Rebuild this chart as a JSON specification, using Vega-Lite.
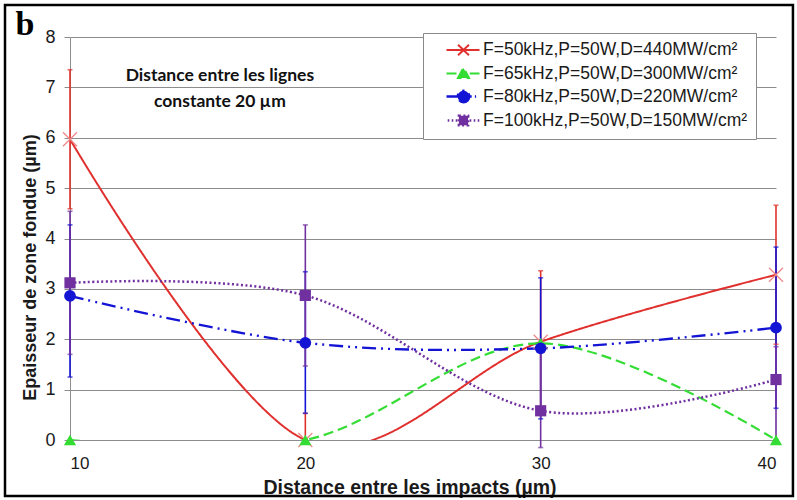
{
  "$schema": "https://vega.github.io/schema/vega-lite/v6.json",
  "width": 706,
  "height": 403,
  "autosize": {"type": "none"},
  "padding": {"left": 70, "top": 37, "right": 21, "bottom": 60},
  "background": "white",
  "config": {
    "view": {"stroke": null},
    "axis": {"labelColor": "#1a1a1a", "titleColor": "#1a1a1a"}
  },
  "datasets": {
    "main": [
      {"series": "F=50kHz,P=50W,D=440MW/cm²", "x": 10, "y": 5.97, "lo": 4.59, "hi": 7.35},
      {"series": "F=50kHz,P=50W,D=440MW/cm²", "x": 20, "y": 0, "lo": 0, "hi": 0.53},
      {"series": "F=50kHz,P=50W,D=440MW/cm²", "x": 30, "y": 1.95, "lo": 0.54, "hi": 3.36},
      {"series": "F=50kHz,P=50W,D=440MW/cm²", "x": 40, "y": 3.28, "lo": 1.9, "hi": 4.66},
      {"series": "F=65kHz,P=50W,D=300MW/cm²", "x": 10, "y": 0, "lo": null, "hi": null},
      {"series": "F=65kHz,P=50W,D=300MW/cm²", "x": 20, "y": 0, "lo": null, "hi": null},
      {"series": "F=65kHz,P=50W,D=300MW/cm²", "x": 30, "y": 1.92, "lo": null, "hi": null},
      {"series": "F=65kHz,P=50W,D=300MW/cm²", "x": 40, "y": 0, "lo": null, "hi": null},
      {"series": "F=80kHz,P=50W,D=220MW/cm²", "x": 10, "y": 2.86, "lo": 1.25, "hi": 4.27},
      {"series": "F=80kHz,P=50W,D=220MW/cm²", "x": 20, "y": 1.93, "lo": 0.53, "hi": 3.34},
      {"series": "F=80kHz,P=50W,D=220MW/cm²", "x": 30, "y": 1.82, "lo": 0.42, "hi": 3.22},
      {"series": "F=80kHz,P=50W,D=220MW/cm²", "x": 40, "y": 2.23, "lo": 0.63, "hi": 3.83},
      {"series": "F=100kHz,P=50W,D=150MW/cm²", "x": 10, "y": 3.12, "lo": 1.7, "hi": 4.54},
      {"series": "F=100kHz,P=50W,D=150MW/cm²", "x": 20, "y": 2.87, "lo": 1.47, "hi": 4.27},
      {"series": "F=100kHz,P=50W,D=150MW/cm²", "x": 30, "y": 0.58, "lo": -0.15, "hi": 1.8},
      {"series": "F=100kHz,P=50W,D=150MW/cm²", "x": 40, "y": 1.2, "lo": 0, "hi": 1.85}
    ]
  },
  "layer": [
    {
      "data": {"values": [{}]},
      "mark": {"type": "rect", "fill": "transparent", "stroke": "black", "strokeWidth": 2.5, "clip": false},
      "encoding": {
        "x": {"datum": 7.238, "type": "quantitative", "scale": {"domain": [10, 40], "nice": false, "zero": false}},
        "x2": {"datum": 40.72},
        "y": {"datum": 8.635, "type": "quantitative", "scale": {"domain": [0, 8], "nice": false, "zero": false}},
        "y2": {"datum": -1.112}
      }
    },
    {
      "data": {"values": [{}]},
      "mark": {"type": "text", "text": "b", "font": "Liberation Serif", "fontWeight": "bold", "fontSize": 34, "align": "center", "baseline": "alphabetic", "color": "black", "clip": false},
      "encoding": {
        "x": {"datum": 8.088, "type": "quantitative", "scale": {"domain": [10, 40], "nice": false, "zero": false}},
        "y": {"datum": 8.04, "type": "quantitative", "scale": {"domain": [0, 8], "nice": false, "zero": false}}
      }
    },
    {
      "data": {"values": [{}]},
      "mark": {"type": "text", "text": ["Distance entre les lignes", "constante 20 µm"], "font": "Lato", "fontWeight": "bold", "fontSize": 17.5, "lineHeight": 26, "align": "center", "baseline": "middle", "color": "#111111"},
      "encoding": {
        "x": {"datum": 16.37, "type": "quantitative", "scale": {"domain": [10, 40], "nice": false, "zero": false}},
        "y": {"datum": 7.23, "type": "quantitative", "scale": {"domain": [0, 8], "nice": false, "zero": false}}
      }
    },
    {
      "data": {"name": "main"},
      "mark": {"type": "rule", "strokeWidth": 1.6, "clip": false},
      "encoding": {
        "x": {"field": "x", "type": "quantitative", "scale": {"domain": [10, 40], "nice": false, "zero": false},
          "axis": {"values": [10, 20, 30, 40], "title": "Distance entre les impacts (µm)", "grid": false, "ticks": false, "domainColor": "#8c8c8c", "labelFont": "Liberation Sans", "labelFontSize": 17, "labelPadding": 15, "titleFont": "Liberation Sans", "titleFontSize": 19.5, "titleFontWeight": "bold", "titleX": 339.5, "titleY": 53, "titleAlign": "center", "titleBaseline": "alphabetic"}},
        "y": {"field": "lo", "type": "quantitative", "scale": {"domain": [0, 8], "nice": false, "zero": false},
          "axis": {"values": [0, 1, 2, 3, 4, 5, 6, 7, 8], "title": "Epaisseur de zone fondue (µm)", "grid": true, "gridColor": "#8c8c8c", "gridWidth": 1, "domainColor": "#8c8c8c", "tickColor": "#8c8c8c", "tickSize": 6, "labelFont": "Liberation Sans", "labelFontSize": 18, "labelPadding": 9, "titleFont": "Liberation Sans", "titleFontSize": 18, "titleFontWeight": "bold", "titlePadding": 5, "titleY": 230}},
        "y2": {"field": "hi"},
        "color": {"field": "series", "type": "nominal", "scale": {"domain": ["F=50kHz,P=50W,D=440MW/cm²", "F=65kHz,P=50W,D=300MW/cm²", "F=80kHz,P=50W,D=220MW/cm²", "F=100kHz,P=50W,D=150MW/cm²"], "range": ["#e0302e", "#33dd33", "#1414d4", "#7030a0"]}}
      }
    },
    {
      "data": {"name": "main"},
      "transform": [{"fold": ["lo", "hi"], "as": ["bound", "val"]}],
      "mark": {"type": "tick", "orient": "horizontal", "size": 5, "thickness": 1.6, "clip": false},
      "encoding": {
        "x": {"field": "x", "type": "quantitative", "scale": {"domain": [10, 40], "nice": false, "zero": false}},
        "y": {"field": "val", "type": "quantitative", "scale": {"domain": [0, 8], "nice": false, "zero": false}},
        "color": {"field": "series", "type": "nominal"}
      }
    },
    {
      "data": {"name": "main"},
      "mark": {"type": "line", "interpolate": "cardinal", "tension": 0, "clip": true},
      "encoding": {
        "x": {"field": "x", "type": "quantitative", "scale": {"domain": [10, 40], "nice": false, "zero": false}},
        "y": {"field": "y", "type": "quantitative", "scale": {"domain": [0, 8], "nice": false, "zero": false}},
        "color": {"field": "series", "type": "nominal",
          "legend": {
            "orient": "none", "legendX": 353, "legendY": -4, "title": null, "padding": 8,
            "strokeColor": "#8a8a8a", "fillColor": "white",
            "labelFont": "Liberation Sans", "labelFontSize": 17.5, "labelColor": "#1a1a1a", "labelOffset": 33, "labelLimit": 400,
            "symbolSize": 256, "rowPadding": 3, "symbolStrokeWidth": 2,
            "encode": {
              "symbols": {
                "update": {
                  "shape": {"signal": "['M0.75,0H4.875M2.2,-0.65L3.55,0.65M2.2,0.65L3.55,-0.65', 'M0.75,0H2.1M3.65,0H4.875M2.2,0.55L2.875,-0.7L3.55,0.55Z', 'M0.75,0H2.2M3.55,0H3.9M4.3,0H4.45M3.6,0A0.72,0.72 0 1,1 2.15,0A0.72,0.72 0 1,1 3.6,0Z', 'M0.9,0H1.1M1.4,0H1.6M1.9,0H2.1M3.65,0H3.85M4.15,0H4.35M4.65,0H4.85M2.3,-0.58H3.45V0.58H2.3Z'][datum.index]"},
                  "stroke": {"signal": "scale('color', datum.value)"},
                  "fill": {"signal": "scale('color', datum.value)"},
                  "strokeWidth": {"value": 2},
                  "strokeDash": {"value": []},
                  "opacity": {"value": 1}
                }
              }
            }
          }},
        "strokeDash": {"field": "series", "type": "nominal", "legend": null, "scale": {"domain": ["F=50kHz,P=50W,D=440MW/cm²", "F=65kHz,P=50W,D=300MW/cm²", "F=80kHz,P=50W,D=220MW/cm²", "F=100kHz,P=50W,D=150MW/cm²"], "range": [[1, 0], [10, 5], [14, 5, 2, 5, 2, 5], [2, 2.5]]}},
        "strokeWidth": {"field": "series", "type": "nominal", "legend": null, "scale": {"domain": ["F=50kHz,P=50W,D=440MW/cm²", "F=65kHz,P=50W,D=300MW/cm²", "F=80kHz,P=50W,D=220MW/cm²", "F=100kHz,P=50W,D=150MW/cm²"], "range": [2, 2.5, 2.5, 2]}}
      }
    },
    {
      "data": {"name": "main"},
      "transform": [{"filter": "datum.series == 'F=50kHz,P=50W,D=440MW/cm²'"}],
      "mark": {"type": "point", "shape": "M-1,-1L1,1M-1,1L1,-1", "size": 196, "filled": false, "color": "#ef8585", "strokeWidth": 1.2, "opacity": 1, "clip": false},
      "encoding": {
        "x": {"field": "x", "type": "quantitative", "scale": {"domain": [10, 40], "nice": false, "zero": false}},
        "y": {"field": "y", "type": "quantitative", "scale": {"domain": [0, 8], "nice": false, "zero": false}}
      }
    },
    {
      "data": {"name": "main"},
      "transform": [{"filter": "datum.series != 'F=50kHz,P=50W,D=440MW/cm²'"}],
      "mark": {"type": "point", "filled": true, "opacity": 1, "clip": false},
      "encoding": {
        "x": {"field": "x", "type": "quantitative", "scale": {"domain": [10, 40], "nice": false, "zero": false}},
        "y": {"field": "y", "type": "quantitative", "scale": {"domain": [0, 8], "nice": false, "zero": false}},
        "color": {"field": "series", "type": "nominal"},
        "shape": {"field": "series", "type": "nominal", "legend": null, "scale": {"domain": ["F=65kHz,P=50W,D=300MW/cm²", "F=80kHz,P=50W,D=220MW/cm²", "F=100kHz,P=50W,D=150MW/cm²"], "range": ["triangle-up", "circle", "square"]}},
        "size": {"field": "series", "type": "nominal", "legend": null, "scale": {"domain": ["F=65kHz,P=50W,D=300MW/cm²", "F=80kHz,P=50W,D=220MW/cm²", "F=100kHz,P=50W,D=150MW/cm²"], "range": [150, 125, 100]}}
      }
    }
  ]
}
